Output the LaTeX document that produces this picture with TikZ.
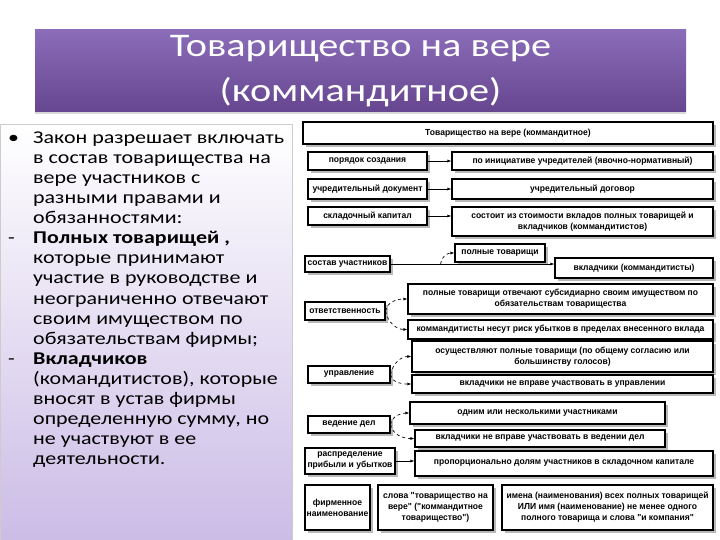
\documentclass[tikz,border=0pt]{standalone}
\usepackage{fontspec}
\setmainfont{Carlito}
\newfontfamily\widefont[FakeStretch=1.22]{Carlito}
\newfontfamily\boxfont[FakeStretch=0.97]{Liberation Sans}
\usetikzlibrary{shadows,arrows.meta}
\definecolor{ttop}{HTML}{8B6CB9}
\definecolor{tbot}{HTML}{66468F}
\definecolor{lav}{HTML}{CBBCE6}
\tikzset{
 bx/.style={draw=black,line width=1.2pt,fill=white,inner sep=0.5pt,align=center,
   font=\boxfont\bfseries\fontsize{8.8}{11}\selectfont,
   drop shadow={shadow xshift=3pt,shadow yshift=-3pt,fill=gray!55,opacity=1}},
 arr/.style={-{Latex[length=4pt,width=3pt]},line width=0.7pt},
 dsh/.style={-{Latex[length=4pt,width=3pt]},line width=0.7pt,dashed}
}
\newcommand\bx[6]{\node[bx,minimum width={(#4-#2)*1pt},minimum height={(#5-#3)*1pt}] (#1) at ({(#2+#4)/2},{(#3+#5)/2}) {#6};}
\begin{document}
\begin{tikzpicture}[x=1pt,y=-1pt]
\useasboundingbox (0,0) rectangle (720,540);
\fill[white] (0,0) rectangle (720,540);
% title
\node[top color=ttop,bottom color=tbot,minimum width=651pt,minimum height=82pt,inner sep=0pt,
  drop shadow={shadow xshift=0pt,shadow yshift=-2pt,fill=gray!60}] (title) at (360.5,71) {};
\node[text=white,align=center,font=\widefont\fontsize{33}{45}\selectfont] (tt) at (360.5,71) {Товарищество на вере\\(коммандитное)};
% left panel
\node[draw=gray!40,top color=white,bottom color=lav,minimum width=292pt,minimum height=418pt,inner sep=0pt] (panel) at (146,333) {};
\node[anchor=north west,inner sep=0pt,font=\widefont\fontsize{18}{20.1}\selectfont] (ltext) at (8,129) {%
\begin{tabular}{@{}p{25pt}@{}l@{}}
\textbullet & Закон разрешает включать\\
 & в состав товарищества на\\
 & вере участников с\\
 & разными правами и\\
 & обязанностями:\\
- & \textbf{Полных товарищей ,}\\
 & которые принимают\\
 & участие в руководстве и\\
 & неограниченно отвечают\\
 & своим имуществом по\\
 & обязательствам фирмы;\\
- & \textbf{Вкладчиков}\\
 & (командитистов), которые\\
 & вносят в устав фирмы\\
 & определенную сумму, но\\
 & не участвуют в ее\\
 & деятельности.
\end{tabular}};
% right diagram
\bx{top}{303}{122}{713}{144}{Товарищество на вере (коммандитное)}
\bx{l1}{308}{152}{427}{170}{порядок создания}
\bx{r1}{452}{152}{713}{170}{по инициативе учредителей (явочно-нормативный)}
\bx{l2}{308}{179}{427}{199}{учредительный документ}
\bx{r2}{452}{179}{713}{199}{учредительный договор}
\bx{l3}{308}{207}{427}{225}{складочный капитал}
\bx{r3}{452}{207}{713}{236}{состоит из стоимости вкладов полных товарищей и\\вкладчиков (коммандитистов)}
\bx{l4}{305}{256}{390}{272}{состав участников}
\bx{r4a}{455}{244}{545}{262}{полные товарищи}
\bx{r4b}{555}{258}{713}{278}{вкладчики (коммандитисты)}
\bx{l5}{305}{302}{385}{320}{ответственность}
\bx{r5a}{408}{284}{713}{314}{полные товарищи отвечают субсидиарно своим имуществом по\\обязательствам товарищества}
\bx{r5b}{408}{320}{713}{339}{коммандитисты несут риск убытков в пределах внесенного вклада}
\bx{l6}{308}{366}{390}{383}{управление}
\bx{r6a}{412}{341}{713}{372}{осуществляют полные товарищи (по общему согласию или\\большинству голосов)}
\bx{r6b}{412}{375}{713}{393}{вкладчики не вправе участвовать в управлении}
\bx{l7}{308}{416}{390}{433}{ведение дел}
\bx{r7a}{410}{402}{665}{424}{одним или несколькими участниками}
\bx{r7b}{415}{430}{665}{447}{вкладчики не вправе участвовать в ведении дел}
\bx{l8}{305}{448}{395}{474}{распределение\\прибыли и убытков}
\bx{r8}{415}{451}{713}{476}{пропорционально долям участников в складочном капитале}
\bx{l9}{305}{485}{370}{530}{фирменное\\наименование}
\bx{r9a}{378}{485}{493}{530}{слова "товарищество на\\вере" ("коммандитное\\товарищество")}
\bx{r9b}{502}{485}{713}{530}{имена (наименования) всех полных товарищей\\ИЛИ имя (наименование) не менее одного\\полного товарища и слова "и компания"}
% connectors
\draw[arr] (l1.east) -- (r1.west);
\draw[arr] (l2.east) -- (r2.west);
\draw[arr] (l3.east) -- (l3.east -| r3.west);
\draw[arr] (l4.east) -- (l4.east -| r4b.west);
\draw[dsh] (l4.east) ++(50,0) to[out=90,in=180] (r4a.west);
\draw[dsh] (l5.east) to[out=80,in=180] (r5a.west);
\draw[dsh] (l5.east) to[out=-80,in=180] (r5b.west);
\draw[dsh] (l6.east) to[out=80,in=180] (r6a.west);
\draw[dsh] (l6.east) to[out=-80,in=180] (r6b.west);
\draw[dsh] (l7.east) to[out=80,in=180] (r7a.west);
\draw[dsh] (l7.east) to[out=-80,in=180] (r7b.west);
\draw[arr] (l8.east) -- (l8.east -| r8.west);
\end{tikzpicture}
\end{document}
